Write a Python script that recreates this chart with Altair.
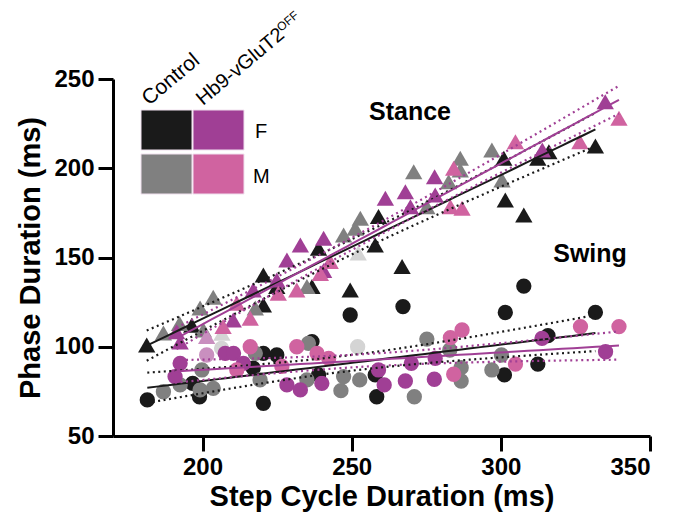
import altair as alt
import numpy as np
import pandas as pd

# ---------------- data ----------------
# Stance phase (triangles)
cf_st_x = [181.3, 196.4, 220.4, 220.4, 224.9, 236.7, 238.9, 249.5, 257.9, 259.0, 266.9, 301.0, 301.5, 307.7, 312.4, 316.1, 331.7]
cf_st_y = [101.0, 112.0, 140.2, 123.4, 133.7, 133.7, 155.2, 131.8, 157.0, 172.9, 144.9, 205.6, 182.2, 173.8, 205.6, 209.3, 212.5]
cm_st_x = [186.9, 192.3, 199.2, 200.3, 203.6, 217.7, 235.0, 247.3, 251.2, 252.9, 270.8, 275.2, 282.5, 286.4, 286.4, 297.0, 300.4]
cm_st_y = [107.7, 113.0, 121.7, 109.4, 127.7, 121.7, 133.7, 162.6, 166.4, 172.0, 198.0, 178.5, 192.5, 205.6, 199.0, 210.2, 193.4]
cl_st_x = [206.5, 252.2]
cl_st_y = [107.5, 152.5]
hf_st_x = [191.3, 192.5, 210.3, 217.0, 224.9, 228.3, 232.8, 240.6, 240.6, 261.3, 268.0, 269.7, 277.8, 278.0, 313.9, 335.0]
hf_st_y = [108.4, 102.6, 115.0, 131.8, 137.4, 148.6, 157.0, 160.8, 142.7, 183.2, 186.9, 178.5, 195.3, 185.0, 210.2, 237.3]
hm_st_x = [206.9, 211.5, 216.0, 225.4, 231.6, 239.5, 242.8, 283.1, 287.0, 284.2, 304.9, 326.5, 339.6]
hm_st_y = [111.3, 124.3, 116.0, 130.0, 131.8, 141.0, 147.7, 178.5, 177.6, 200.0, 214.9, 214.9, 228.0]
hl_st_x = [201.4]
hl_st_y = [105.7]

# Swing phase (circles)
cf_sw_x = [181.5, 196.7, 199.0, 217.0, 220.4, 220.4, 224.9, 236.7, 238.9, 249.5, 257.9, 258.4, 267.2, 301.2, 301.5, 307.7, 312.4, 315.8, 331.7]
cf_sw_y = [70.2, 79.5, 72.0, 88.0, 96.3, 68.3, 95.4, 102.9, 84.2, 117.8, 84.2, 72.0, 122.5, 84.2, 119.2, 134.0, 90.3, 106.2, 119.3]
cm_sw_x = [186.9, 192.5, 199.2, 199.8, 203.6, 217.7, 219.3, 235.0, 235.5, 246.4, 247.3, 252.7, 271.0, 275.2, 282.9, 286.7, 286.7, 297.0, 300.2]
cm_sw_y = [74.8, 78.6, 75.8, 87.0, 76.7, 96.3, 81.4, 81.4, 101.9, 75.4, 83.3, 81.4, 72.0, 104.3, 98.2, 88.3, 80.8, 87.0, 95.4]
cl_sw_x = [206.4, 252.0]
cl_sw_y = [99.1, 100.0]
hf_sw_x = [190.8, 192.5, 207.6, 210.4, 213.7, 228.3, 232.8, 240.0, 259.0, 260.9, 268.0, 270.0, 277.7, 278.0, 313.8, 335.1]
hf_sw_y = [83.3, 90.7, 96.3, 96.3, 90.7, 78.6, 75.8, 79.5, 87.0, 78.6, 80.8, 90.7, 81.8, 93.5, 104.7, 97.2]
hm_sw_x = [211.5, 216.0, 226.6, 231.6, 238.4, 242.3, 283.1, 284.2, 287.0, 304.9, 326.7, 339.6]
hm_sw_y = [87.0, 100.0, 89.0, 100.0, 96.3, 93.5, 105.1, 84.6, 109.4, 90.3, 111.3, 111.3]
hl_sw_x = [201.4]
hl_sw_y = [95.4]

groups = ["Control F", "Control M", "Control L", "Hb9 F", "Hb9 M", "Hb9 L"]
group_colors = ["#1a1a1a", "#808080", "#d4d4d4", "#a03f95", "#d063a0", "#c98fbf"]
geno_colors = {"Control": "#1a1a1a", "Hb9": "#a03f95"}
x_ticks = [200, 250, 300, 350]
y_ticks = [50, 100, 150, 200, 250]

# ---------------- build tables ----------------
series = [
    ("Control F", "Control", "Stance", cf_st_x, cf_st_y),
    ("Control M", "Control", "Stance", cm_st_x, cm_st_y),
    ("Control L", "Control", "Stance", cl_st_x, cl_st_y),
    ("Hb9 F", "Hb9", "Stance", hf_st_x, hf_st_y),
    ("Hb9 M", "Hb9", "Stance", hm_st_x, hm_st_y),
    ("Hb9 L", "Hb9", "Stance", hl_st_x, hl_st_y),
    ("Control F", "Control", "Swing", cf_sw_x, cf_sw_y),
    ("Control M", "Control", "Swing", cm_sw_x, cm_sw_y),
    ("Control L", "Control", "Swing", cl_sw_x, cl_sw_y),
    ("Hb9 F", "Hb9", "Swing", hf_sw_x, hf_sw_y),
    ("Hb9 M", "Hb9", "Swing", hm_sw_x, hm_sw_y),
    ("Hb9 L", "Hb9", "Swing", hl_sw_x, hl_sw_y),
]
rows = []
for g, geno, ph, xs, ys in series:
    for a, b in zip(xs, ys):
        rows.append({"x": a, "y": b, "group": g, "geno": geno, "phase": ph})
pts = pd.DataFrame(rows)

# linear fit with 95% confidence band, per genotype and phase
fit_rows = []
for geno in ["Control", "Hb9"]:
    for ph in ["Stance", "Swing"]:
        d = pts[(pts.geno == geno) & (pts.phase == ph)]
        X = d.x.to_numpy(); Y = d.y.to_numpy()
        n = len(X)
        b1, b0 = np.polyfit(X, Y, 1)
        resid = Y - (b0 + b1 * X)
        s = np.sqrt(np.sum(resid ** 2) / (n - 2))
        xbar = X.mean(); sxx = np.sum((X - xbar) ** 2)
        df = n - 2; z = 1.96
        t = z + (z ** 3 + z) / (4 * df)
        xs = np.linspace(X.min(), X.max(), 40)
        yh = b0 + b1 * xs
        se = s * np.sqrt(1.0 / n + (xs - xbar) ** 2 / sxx)
        for kind, arr in [("fit", yh), ("lo", yh - t * se), ("hi", yh + t * se)]:
            for a, b in zip(xs, arr):
                fit_rows.append({"x": a, "y": b, "geno": geno, "phase": ph, "kind": kind,
                                 "key": f"{geno}-{ph}-{kind}"})
fits = pd.DataFrame(fit_rows)

FONT = "Liberation Sans"
xscale = alt.Scale(domain=[170, 350], nice=False, zero=False)
yscale = alt.Scale(domain=[50, 250], nice=False, zero=False)

points = alt.Chart(pts).mark_point(filled=True, opacity=1, strokeWidth=0).encode(
    x=alt.X("x:Q", scale=xscale, axis=alt.Axis(values=x_ticks, title="Step Cycle Duration (ms)")),
    y=alt.Y("y:Q", scale=yscale, axis=alt.Axis(values=y_ticks, title="Phase Duration (ms)")),
    color=alt.Color("group:N", scale=alt.Scale(domain=groups, range=group_colors), legend=None),
    shape=alt.Shape("phase:N", scale=alt.Scale(domain=["Stance", "Swing"], range=["triangle-up", "circle"]), legend=None),
    size=alt.Size("phase:N", scale=alt.Scale(domain=["Stance", "Swing"], range=[300, 235]), legend=None),
)

layers = [points]
for geno in ["Control", "Hb9"]:
    base = alt.Chart(fits).transform_filter(alt.datum.geno == geno)
    layers.append(base.transform_filter(alt.datum.kind == "fit").mark_line(
        strokeWidth=2, color=geno_colors[geno]).encode(
        x=alt.X("x:Q", scale=xscale), y=alt.Y("y:Q", scale=yscale), detail="key:N"))
    layers.append(base.transform_filter(alt.datum.kind != "fit").mark_line(
        strokeWidth=2.2, strokeDash=[2, 3.5], color=geno_colors[geno]).encode(
        x=alt.X("x:Q", scale=xscale), y=alt.Y("y:Q", scale=yscale), detail="key:N"))

dummy = pd.DataFrame({"a": [0]})

# custom legend block
cells = [("#1a1a1a", 28, 31), ("#a03f95", 80, 31), ("#808080", 28, 75), ("#d063a0", 80, 75)]
for col, cx, cy in cells:
    layers.append(alt.Chart(dummy).mark_rect(color=col, stroke="#f0e0ee", strokeWidth=1).encode(
        x=alt.value(cx), x2=alt.value(cx + 51), y=alt.value(cy), y2=alt.value(cy + 40)))

def label(txt, x, y, size, bold=False, angle=0, align="center", baseline="middle"):
    kw = dict(text=txt, font=FONT, fontSize=size, fontWeight="bold" if bold else "normal",
              color="black", align=align, baseline=baseline)
    if angle:
        kw["angle"] = angle
    return alt.Chart(dummy).mark_text(**kw).encode(x=alt.value(x), y=alt.value(y))

layers += [
    label("F", 142, 53, 20, align="left"),
    label("M", 140, 98, 20, align="left"),
    label("Control", 36, 27, 21, angle=320, align="left", baseline="alphabetic"),
    label("Hb9-vGluT2", 90, 27, 20, angle=320, align="left", baseline="alphabetic"),
    label("OFF", 168, -47, 12, angle=320, align="left", baseline="alphabetic"),
    label("Stance", 297, 33, 25, bold=True),
    label("Swing", 477, 175, 25, bold=True),
]

chart = alt.layer(*layers).properties(
    width=537, height=357,
    autosize=alt.AutoSizeParams(type="none"),
    padding={"left": 105, "top": 71, "right": 15, "bottom": 82},
).configure_view(stroke=None).configure_axis(
    domainColor="black", domainWidth=3, tickColor="black", tickWidth=3, tickSize=15,
    grid=False, labelFont=FONT, labelFontSize=24, labelFontWeight="bold", labelColor="black",
    labelPadding=4, titleFont=FONT, titleFontSize=29, titleFontWeight="bold", titleColor="black",
).configure_axisX(titlePadding=3).configure_axisY(titlePadding=8)

chart.save("out.html", embed_options={"renderer": "svg", "actions": False})
